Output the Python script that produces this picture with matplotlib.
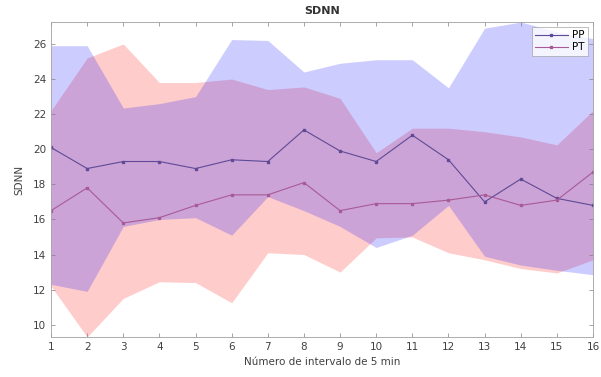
import matplotlib
matplotlib.use("Agg")
import matplotlib.pyplot as plt
import numpy as np

intervals = list(range(1, 17))
pp_mean = [20.1, 18.9, 19.3, 19.3, 18.9, 19.4, 19.3, 21.1, 19.9, 19.3, 20.8, 19.4, 17.0, 18.3, 17.2, 16.8]
pt_mean = [16.5, 17.8, 15.8, 16.1, 16.8, 17.4, 17.4, 18.1, 16.5, 16.9, 16.9, 17.1, 17.4, 16.8, 17.1, 18.7]
pp_upper = [25.9, 25.9, 22.35, 22.6, 23.0, 26.25, 26.2, 24.4, 24.9, 25.1, 25.1, 23.5, 26.9, 27.25, 26.7, 26.3]
pp_lower = [12.3, 11.9, 15.6, 16.0, 16.1, 15.1, 17.3, 16.5, 15.6, 14.4, 15.1, 16.8, 13.9, 13.4, 13.1, 12.85]
pt_upper = [22.2, 25.2, 26.0, 23.8, 23.8, 24.0, 23.4, 23.55, 22.9, 19.8, 21.2, 21.2, 21.0, 20.7, 20.25, 22.2]
pt_lower = [12.2, 9.3, 11.5, 12.45, 12.4, 11.25, 14.1, 14.0, 13.0, 14.95, 15.0, 14.1, 13.7, 13.2, 12.95, 13.7]
series_names = ["PP", "PT"]
x_ticks = list(range(1, 17))
y_ticks = list(range(10, 27, 2))

fig = plt.figure(figsize=(6.01, 3.77), dpi=100)
ax = fig.add_axes([0.0849, 0.1061, 0.9867 - 0.0849, 0.9416 - 0.1061])

ax.fill_between(intervals, pt_lower, pt_upper, color=(1, 0, 0), alpha=0.2, linewidth=0)
ax.fill_between(intervals, pp_lower, pp_upper, color=(0, 0, 1), alpha=0.2, linewidth=0)

ax.plot(intervals, pp_mean, '-', color='#5e4a96', lw=0.8, marker='s', ms=1.8, label=series_names[0])
ax.plot(intervals, pt_mean, '-', color='#a85a96', lw=0.8, marker='s', ms=1.8, label=series_names[1])

ymin = min(min(pp_lower), min(pt_lower))
ymax = max(max(pp_upper), max(pt_upper))
ax.set_xlim(intervals[0], intervals[-1])
ax.set_ylim(ymin, ymax)
ax.set_xticks(x_ticks)
ax.set_yticks(y_ticks)

grey = '#404040'
for s in ax.spines.values():
    s.set_color('#a0a0a0')
    s.set_linewidth(0.6)
ax.tick_params(direction='in', top=True, right=True, length=3, width=0.5,
               colors='#808080', labelcolor=grey, labelsize=7.5)

ax.set_title("SDNN", fontsize=8, fontweight='bold', color='#333333', pad=6)
ax.set_xlabel("Número de intervalo de 5 min", fontsize=7.5, color=grey, labelpad=4)
ax.set_ylabel("SDNN", fontsize=7.5, color=grey, labelpad=6)

leg = ax.legend(loc='upper right', fontsize=7.5, frameon=True, fancybox=False,
                handlelength=3.2, borderpad=0.3, labelspacing=0.2, handletextpad=0.4,
                borderaxespad=0.5)
leg.get_frame().set_edgecolor('#a0a0a0')
leg.get_frame().set_linewidth(0.6)

fig.savefig("out.png", dpi=100)
